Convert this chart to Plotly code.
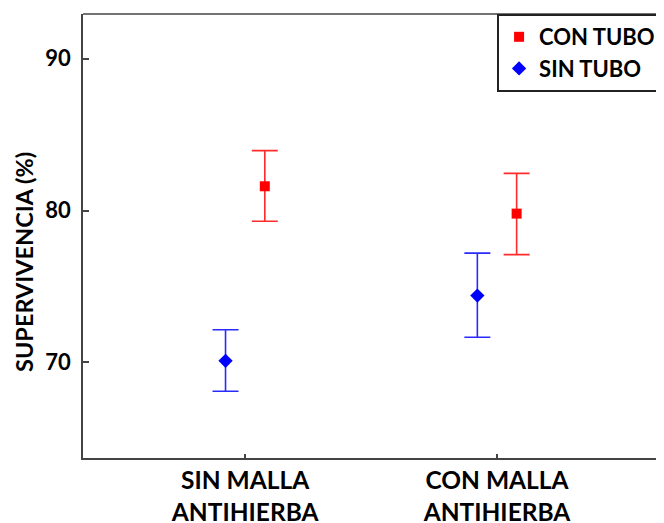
import plotly.graph_objects as go

categories = ["SIN MALLA ANTIHIERBA", "CON MALLA ANTIHIERBA"]
tick_labels = ["SIN MALLA<br>ANTIHIERBA", "CON MALLA<br>ANTIHIERBA"]

sin_tubo_mean = [70.1, 74.4]
sin_tubo_err_plus = [2.05, 2.8]
sin_tubo_err_minus = [2.0, 2.75]

con_tubo_mean = [81.6, 79.8]
con_tubo_err_plus = [2.35, 2.65]
con_tubo_err_minus = [2.3, 2.7]

y_ticks = [70, 80, 90]
y_title = "SUPERVIVENCIA (%)"

FONT = "Lato"

fig = go.Figure()
fig.add_trace(go.Scatter(
    x=categories, y=sin_tubo_mean, name="SIN TUBO", mode="markers",
    offsetgroup="sin",
    marker=dict(symbol="diamond", size=11, color="#0000ff"),
    error_y=dict(type="data", symmetric=False, array=sin_tubo_err_plus,
                 arrayminus=sin_tubo_err_minus, color="#2a2aff",
                 thickness=1.6, width=13),
))
fig.add_trace(go.Scatter(
    x=categories, y=con_tubo_mean, name="CON TUBO", mode="markers",
    offsetgroup="con",
    marker=dict(symbol="square", size=10, color="#ff0000"),
    error_y=dict(type="data", symmetric=False, array=con_tubo_err_plus,
                 arrayminus=con_tubo_err_minus, color="#ff2a2a",
                 thickness=1.6, width=13),
))

fig.update_layout(
    width=664, height=523,
    margin=dict(l=75, r=0, t=6, b=73),
    paper_bgcolor="white", plot_bgcolor="white",
    scattermode="group", scattergap=0.688,
    font=dict(family=FONT, color="black"),
    showlegend=True,
    legend=dict(
        x=0.703, y=1, xanchor="left", yanchor="top",
        traceorder="reversed",
        bordercolor="#222", borderwidth=2, bgcolor="white",
        font=dict(family=FONT, size=22, color="black", weight="bold"),
        itemwidth=30, entrywidth=140,
    ),
    xaxis=dict(
        type="category",
        categoryorder="array", categoryarray=categories,
        tickvals=categories, ticktext=tick_labels,
        range=[-0.644, 1.695],
        showline=True, linecolor="#444", linewidth=1.5,
        ticks="inside", ticklen=4, tickcolor="#444", tickwidth=1.5,
        showgrid=False, zeroline=False,
        tickfont=dict(family=FONT, size=24.5, color="black", weight="bold"),
    ),
    yaxis=dict(
        range=[63.7, 92.95],
        tickvals=y_ticks,
        showline=True, linecolor="#444", linewidth=1.5,
        ticks="inside", ticklen=6, tickcolor="#444", tickwidth=1.5,
        showgrid=False, zeroline=False,
        ticklabelstandoff=6,
        tickfont=dict(family=FONT, size=22, color="black", weight="bold"),
    ),
    annotations=[dict(text=y_title, textangle=-90, xref="paper", yref="paper",
                      x=-0.1002, y=0.4414, xanchor="center", yanchor="middle",
                      showarrow=False,
                      font=dict(family=FONT, size=23.5, color="black", weight="bold"))],
    shapes=[dict(type="line", xref="paper", yref="paper", x0=0, x1=1, y0=1, y1=1,
                 line=dict(color="#444", width=1.5))],
)

fig.write_html("out.html")
